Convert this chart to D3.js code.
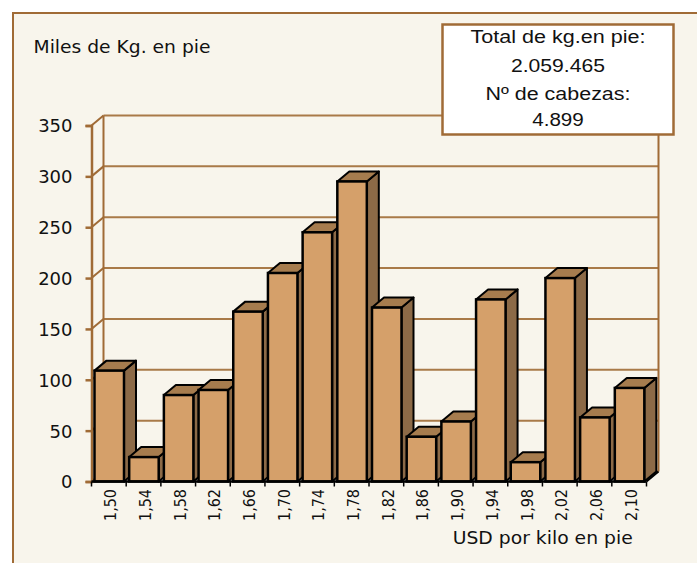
<!DOCTYPE html>
<html><head><meta charset="utf-8">
<script src="https://cdn.jsdelivr.net/npm/d3@7"></script>
<style>html,body{margin:0;padding:0;background:#fff;}svg{display:block;}</style>
</head><body>
<script>
const categories = ["1,50","1,54","1,58","1,62","1,66","1,70","1,74","1,78","1,82","1,86","1,90","1,94","1,98","2,02","2,06","2,10"];
const values = [109, 24, 85, 90, 167, 205, 245, 295, 171, 44, 59, 179, 19, 200, 63, 92];
const yTicks = [0, 50, 100, 150, 200, 250, 300, 350];
const yTitle = "Miles de Kg. en pie";
const xTitle = "USD por kilo en pie";
const boxLines = ["Total de kg.en pie:", "2.059.465", "Nº de cabezas:", "4.899"];

const W = 697, H = 563;
const dx = 12, dy = -10;
const svg = d3.select("body").append("svg").attr("width", W).attr("height", H);

// outer frame
svg.append("rect").attr("x", 13).attr("y", 13).attr("width", W + 20).attr("height", H + 20)
  .attr("fill", "#F8F5EC").attr("stroke", "#A06B36").attr("stroke-width", 2);

const x = d3.scaleBand().domain(categories).range([91.5, 646.5]);
const y = d3.scaleLinear().domain([0, 350]).range([481.5, 125.5]);
const gridC = "#A97A48", axisC = "#A06B36";

// back wall gridlines
svg.append("g").selectAll("line").data(yTicks.slice(1)).join("line")
  .attr("x1", 91.5 + dx).attr("x2", 646.5 + dx)
  .attr("y1", d => y(d) + dy).attr("y2", d => y(d) + dy)
  .attr("stroke", gridC).attr("stroke-width", 2);
// back floor line
svg.append("line").attr("x1", 91.5 + dx).attr("x2", 646.5 + dx)
  .attr("y1", y(0) + dy).attr("y2", y(0) + dy).attr("stroke", gridC).attr("stroke-width", 2);
// back wall left & right verticals
svg.append("line").attr("x1", 91.5 + dx).attr("x2", 91.5 + dx).attr("y1", y(350) + dy).attr("y2", y(0) + dy)
  .attr("stroke", axisC).attr("stroke-width", 2);
svg.append("line").attr("x1", 646.5 + dx).attr("x2", 646.5 + dx).attr("y1", y(350) + dy).attr("y2", y(0) + dy)
  .attr("stroke", axisC).attr("stroke-width", 2);
// side wall diagonals
svg.append("g").selectAll("line").data(yTicks).join("line")
  .attr("x1", 91.5).attr("x2", 91.5 + dx)
  .attr("y1", d => y(d)).attr("y2", d => y(d) + dy)
  .attr("stroke", axisC).attr("stroke-width", 2);

// y axis
const yAxis = d3.axisLeft(y).tickValues(yTicks).tickSize(6).tickPadding(13);
const gy = svg.append("g").attr("transform", "translate(91.5,0)").call(yAxis);
gy.select(".domain").attr("stroke", axisC).attr("stroke-width", 2.5);
gy.selectAll(".tick line").attr("stroke", axisC).attr("stroke-width", 2.5);
gy.selectAll(".tick text").attr("font-family", "DejaVu Sans").attr("font-size", 18)
  .attr("fill", "#111").attr("dy", "0.36em");

// bars
const off = 3, bw = 29.5;
const bars = svg.append("g").selectAll("g").data(categories.map((c, i) => ({c, v: values[i]}))).join("g");
bars.append("path").attr("d", d => {
  const x1 = x(d.c) + off + bw, yt = y(d.v), y0 = y(0);
  return `M${x1},${yt}L${x1 + dx},${yt + dy}L${x1 + dx},${y0 + dy}L${x1},${y0}Z`;
}).attr("fill", "#8C6A47").attr("stroke", "#000").attr("stroke-width", 2).attr("stroke-linejoin", "round");
bars.append("path").attr("d", d => {
  const x0 = x(d.c) + off, x1 = x0 + bw, yt = y(d.v);
  return `M${x0},${yt}L${x0 + dx},${yt + dy}L${x1 + dx},${yt + dy}L${x1},${yt}Z`;
}).attr("fill", "#A67C4E").attr("stroke", "#000").attr("stroke-width", 2).attr("stroke-linejoin", "round");
bars.append("rect").attr("x", d => x(d.c) + off).attr("y", d => y(d.v))
  .attr("width", bw).attr("height", d => y(0) - y(d.v))
  .attr("fill", "#D5A06A").attr("stroke", "#000").attr("stroke-width", 2.5);

// x axis baseline + ticks + floor right diagonal
svg.append("line").attr("x1", 91.5).attr("x2", 646.5).attr("y1", y(0)).attr("y2", y(0))
  .attr("stroke", "#000").attr("stroke-width", 2.5);
svg.append("line").attr("x1", 646.5).attr("x2", 646.5 + dx).attr("y1", y(0)).attr("y2", y(0) + dy)
  .attr("stroke", "#000").attr("stroke-width", 2);
const bounds = categories.map(c => x(c)).concat([646.5]);
svg.append("g").selectAll("line").data(bounds).join("line")
  .attr("x1", d => d).attr("x2", d => d).attr("y1", y(0)).attr("y2", y(0) + 5)
  .attr("stroke", "#000").attr("stroke-width", 1.5);
svg.append("g").selectAll("text").data(categories).join("text")
  .attr("transform", c => `translate(${x(c) + x.bandwidth() / 2 + 1.5},489) rotate(-90)`)
  .attr("text-anchor", "end").attr("dy", "0.36em")
  .attr("font-family", "DejaVu Sans").attr("font-size", 16.5).attr("fill", "#111")
  .attr("textLength", 32).attr("lengthAdjust", "spacingAndGlyphs")
  .text(c => c);

// titles
svg.append("text").attr("x", 33.5).attr("y", 53).attr("font-family", "DejaVu Sans").attr("font-size", 18)
  .attr("fill", "#111").attr("textLength", 177).attr("lengthAdjust", "spacingAndGlyphs").text(yTitle);
svg.append("text").attr("x", 452.7).attr("y", 544).attr("font-family", "DejaVu Sans").attr("font-size", 18)
  .attr("fill", "#111").attr("textLength", 180).attr("lengthAdjust", "spacingAndGlyphs").text(xTitle);

// info box
svg.append("rect").attr("x", 442.5).attr("y", 24.5).attr("width", 231).attr("height", 110)
  .attr("fill", "#fff").attr("stroke", "#A06B36").attr("stroke-width", 2.5);
const boxBase = [43.3, 71.7, 100, 126];
const boxLen = [175, 94, 145, 51.6];
svg.append("g").selectAll("text").data(boxLines).join("text")
  .attr("x", 558).attr("y", (d, i) => boxBase[i]).attr("text-anchor", "middle")
  .attr("font-family", "Liberation Sans, Arial").attr("font-size", 17.5).attr("fill", "#111")
  .attr("textLength", (d, i) => boxLen[i]).attr("lengthAdjust", "spacingAndGlyphs")
  .text(d => d);
</script>
</body></html>
